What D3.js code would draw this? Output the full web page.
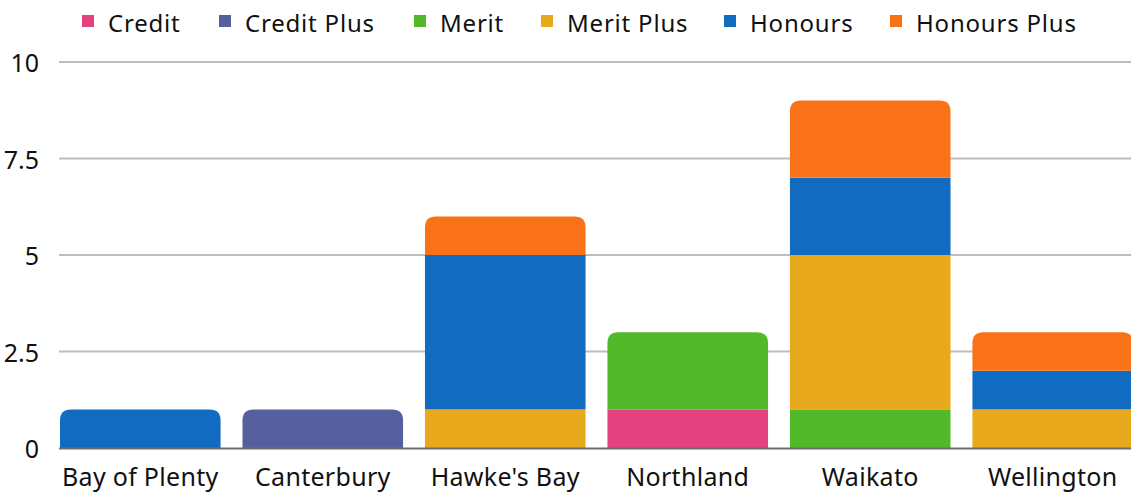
<!DOCTYPE html>
<html>
<head>
<meta charset="utf-8">
<script src="https://cdn.jsdelivr.net/npm/d3@7"></script>
<style>
  body { margin: 0; background: #fff; }
  svg text { font-family: "Noto Sans", "Open Sans", sans-serif; fill: #111; }
</style>
</head>
<body>
<svg id="chart" width="1131" height="494"></svg>
<script>
// data
const regions = ["Bay of Plenty", "Canterbury", "Hawke's Bay", "Northland", "Waikato", "Wellington"]
const grades = ["Credit", "Credit Plus", "Merit", "Merit Plus", "Honours", "Honours Plus"]
const gradeColors = ["#e4417f", "#56609f", "#52b92a", "#e9a91d", "#106bc1", "#f97218"]

const credit      = [0, 0, 0, 1, 0, 0]
const creditPlus  = [0, 1, 0, 0, 0, 0]
const merit       = [0, 0, 0, 2, 1, 0]
const meritPlus   = [0, 0, 1, 0, 4, 1]
const honours     = [1, 0, 4, 0, 2, 1]
const honoursPlus = [0, 0, 1, 0, 2, 1]

const yTicks = [0, 2.5, 5, 7.5, 10]
const yTickLabels = ["0", "2.5", "5", "7.5", "10"]
const legendX = [82, 219, 414, 541, 724, 890] // legend item positions

const series = [credit, creditPlus, merit, meritPlus, honours, honoursPlus]
const table = regions.map((r, i) => {
  const row = {region: r}
  grades.forEach((g, k) => row[g] = series[k][i])
  return row
})

const svg = d3.select('#chart')
const color = d3.scaleOrdinal().domain(grades).range(gradeColors)

const x = d3.scaleBand()
  .domain(regions)
  .range([60, 1133])
  .paddingInner(0.12)
  .paddingOuter(0)

const y = d3.scaleLinear()
  .domain([0, 10])
  .range([448, 62])

// grid lines
svg.append('g')
  .selectAll('line')
  .data(yTicks.filter(d => d > 0))
  .enter().append('line')
  .attr('x1', 59).attr('x2', 1131)
  .attr('y1', d => y(d)).attr('y2', d => y(d))
  .attr('stroke', '#bdbdbd')
  .attr('stroke-width', 2)

// y tick labels
svg.append('g')
  .selectAll('text')
  .data(yTicks)
  .enter().append('text')
  .attr('x', 39)
  .attr('y', d => y(d) + 10)
  .attr('text-anchor', 'end')
  .style('font-size', '25px')
  .text((d, i) => yTickLabels[i])

// bars
const stacked = d3.stack().keys(grades)(table)

// find top segment for each region, to round it
const topKey = {}
table.forEach(row => {
  grades.forEach(g => { if (row[g] > 0) topKey[row.region] = g })
})

function roundTop(x0, y0, w, h, r) {
  r = Math.min(r, h, w / 2)
  return `M${x0},${y0 + h}V${y0 + r}Q${x0},${y0} ${x0 + r},${y0}` +
    `H${x0 + w - r}Q${x0 + w},${y0} ${x0 + w},${y0 + r}V${y0 + h}Z`
}

const layer = svg.append('g')
stacked.forEach(s => {
  s.forEach(d => {
    if (d[1] - d[0] <= 0) return
    const x0 = x(d.data.region)
    const y0 = y(d[1])
    const h = y(d[0]) - y(d[1])
    if (topKey[d.data.region] === s.key) {
      layer.append('path')
        .attr('d', roundTop(x0, y0, x.bandwidth(), h, 11))
        .attr('fill', color(s.key))
    } else {
      layer.append('rect')
        .attr('x', x0).attr('y', y0)
        .attr('width', x.bandwidth()).attr('height', h)
        .attr('fill', color(s.key))
    }
  })
})

// baseline
svg.append('line')
  .attr('x1', 59).attr('x2', 1131)
  .attr('y1', y(0) + 0.5).attr('y2', y(0) + 0.5)
  .attr('stroke', '#6e6e6e')
  .attr('stroke-width', 2)

// x labels
svg.append('g')
  .selectAll('text')
  .data(regions)
  .enter().append('text')
  .attr('x', d => x(d) + x.bandwidth() / 2)
  .attr('y', 486)
  .attr('text-anchor', 'middle')
  .style('font-size', '25px')
  .style('letter-spacing', '0.3px')
  .text(d => d)

// legend
const legend = svg.append('g').attr('class', 'legend')
grades.forEach((g, i) => {
  legend.append('rect')
    .attr('x', legendX[i]).attr('y', 15)
    .attr('width', 12).attr('height', 12)
    .attr('fill', color(g))
  legend.append('text')
    .attr('x', legendX[i] + 26).attr('y', 31.5)
    .style('font-size', '24px')
    .style('letter-spacing', '0.8px')
    .text(g)
})
</script>
</body>
</html>
